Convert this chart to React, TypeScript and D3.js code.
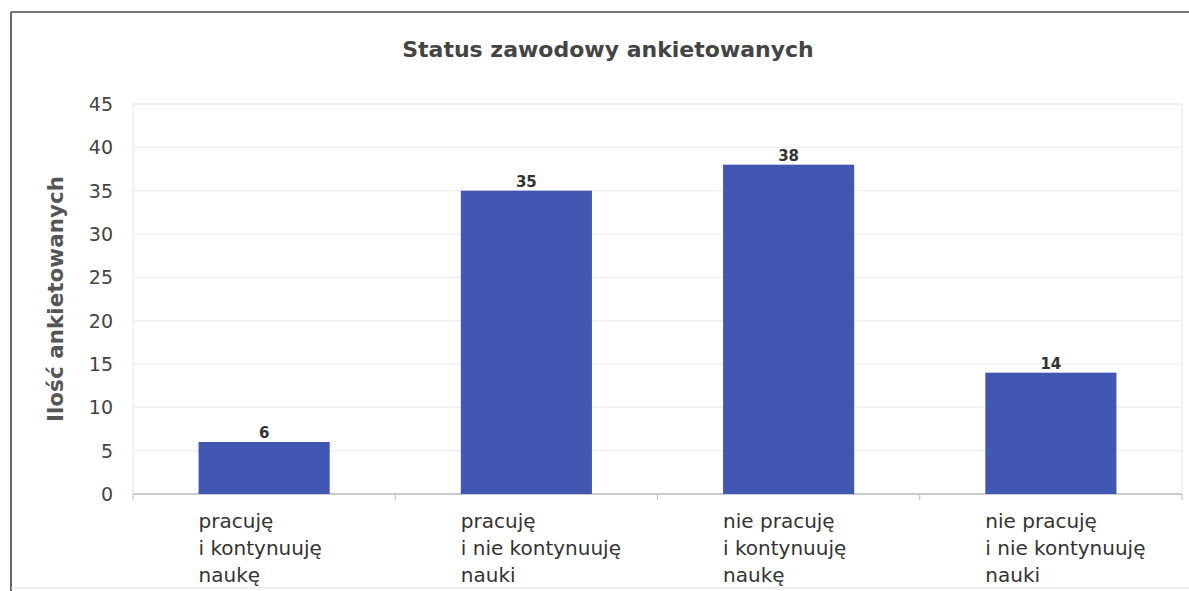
import React from "react";
import * as d3 from "d3";

const categories: string[][] = [
  ["pracuję", "i kontynuuję", "naukę"],
  ["pracuję", "i nie kontynuuję", "nauki"],
  ["nie pracuję", "i kontynuuję", "naukę"],
  ["nie pracuję", "i nie kontynuuję", "nauki"],
];
const values: number[] = [6, 35, 38, 14];
const yTicks: number[] = [0, 5, 10, 15, 20, 25, 30, 35, 40, 45];
const title = "Status zawodowy ankietowanych";
const yLabel = "Ilość ankietowanych";

const W = 1189;
const H = 591;
const plot = { left: 133, right: 1182, top: 104, bottom: 494 };

export default function App() {
  const x = d3
    .scaleBand<number>()
    .domain(values.map((_, i) => i))
    .range([plot.left, plot.right])
    .paddingInner(0.5)
    .paddingOuter(0.25);
  const band = d3.scaleBand<number>().domain(values.map((_, i) => i)).range([plot.left, plot.right]);
  const y = d3.scaleLinear().domain([0, 45]).range([plot.bottom, plot.top]);
  const font = "'DejaVu Sans', Verdana, sans-serif";

  return (
    <svg width={W} height={H} style={{ position: "absolute", left: 0, top: 0, background: "#fff" }}>
      <rect x={0} y={0} width={W} height={H} fill="#fff" />
      {/* outer frame */}
      <line x1={11} y1={12} x2={W} y2={12} stroke="#777" strokeWidth={2} />
      <line x1={11} y1={12} x2={11} y2={H} stroke="#666" strokeWidth={2} />
      <line x1={11} y1={588} x2={W} y2={588} stroke="#ddd" strokeWidth={1} />
      {/* title */}
      <text x={608} y={57} textAnchor="middle" fontFamily={font} fontWeight="bold" fontSize={22} fill="#444">
        {title}
      </text>
      {/* grid */}
      {yTicks.map((t) => (
        <line key={"g" + t} x1={plot.left} x2={plot.right} y1={y(t)} y2={y(t)} stroke={t === 0 ? "#bbb" : t === 45 ? "#ddd" : "#ececec"} strokeWidth={t === 0 ? 1.5 : 1} />
      ))}
      <line x1={plot.left} x2={plot.left} y1={plot.top} y2={plot.bottom} stroke="#e4e4e4" />
      <line x1={plot.right} x2={plot.right} y1={plot.top} y2={plot.bottom} stroke="#e4e4e4" />
      {/* category tick marks */}
      {d3.range(values.length + 1).map((i) => {
        const xx = plot.left + i * band.step();
        return <line key={"ct" + i} x1={xx} x2={xx} y1={plot.bottom} y2={plot.bottom + 6} stroke="#bbb" />;
      })}
      {/* y tick labels */}
      {yTicks.map((t) => (
        <text key={"t" + t} x={113} y={y(t) + 7} textAnchor="end" fontFamily={font} fontSize={19} fill="#444">
          {t}
        </text>
      ))}
      {/* y axis label */}
      <text
        transform={`translate(63, ${(plot.top + plot.bottom) / 2}) rotate(-90)`}
        textAnchor="middle"
        fontFamily={font}
        fontWeight="bold"
        fontSize={21.5}
        fill="#555"
      >
        {yLabel}
      </text>
      {/* bars */}
      {values.map((v, i) => (
        <g key={"b" + i}>
          <rect x={x(i)!} y={y(v)} width={x.bandwidth()} height={y(0) - y(v)} fill="#4157b2" />
          <text x={x(i)! + x.bandwidth() / 2} y={y(v) - 4} textAnchor="middle" fontFamily={font} fontWeight="bold" fontSize={15} fill="#333">
            {v}
          </text>
        </g>
      ))}
      {/* category labels */}
      {categories.map((lines, i) => (
        <text key={"c" + i} x={x(i)!} y={528} fontFamily={font} fontSize={20} fill="#333">
          {lines.map((l, j) => (
            <tspan key={j} x={x(i)!} dy={j === 0 ? 0 : 27}>
              {l}
            </tspan>
          ))}
        </text>
      ))}
    </svg>
  );
}
